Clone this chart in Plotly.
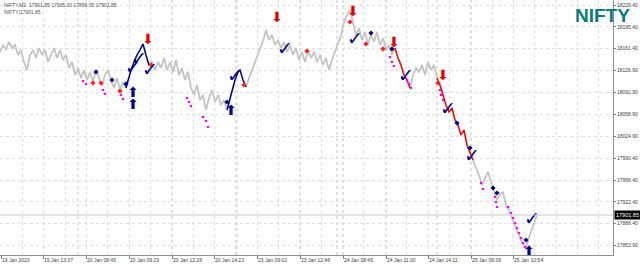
import plotly.graph_objects as go

# ---------------- data ----------------
bar_idx = [0, 3, 6, 9, 12, 15, 18, 21, 24, 27, 30, 33, 36, 39, 42, 45, 48, 51, 54, 57, 60, 63, 66, 69, 72, 75, 78,
           81, 84, 87, 90, 93, 96, 99, 102, 105, 108, 111, 114, 117, 120, 123, 126, 128, 131, 134, 137, 140, 143,
           146, 149, 152, 155, 158, 161, 164, 167, 170, 173, 176, 179, 182, 185, 188, 191, 194, 197, 200, 203,
           206, 209, 212, 215, 218, 221, 224, 227, 229, 232, 235, 238, 240, 243, 246, 249, 252, 255, 258, 261,
           264, 266, 269, 272, 275, 278, 281, 284, 287, 290, 293, 296, 299, 302, 305, 308, 311, 314, 317, 320,
           323, 326, 329, 332, 335, 338, 341, 344, 347, 350, 353, 356, 359, 362, 365, 368, 371, 374, 377, 380,
           383, 386, 389, 392, 395, 398, 401, 404, 407, 410, 413, 416, 419, 422, 425, 428, 431, 434, 437, 440,
           443, 446, 449, 452, 455, 458, 461, 464, 467, 470, 473, 476, 479, 482, 485, 488, 491, 494, 497, 500,
           503, 506, 509, 512, 515, 518, 521, 524, 526, 528, 531, 534, 537]
close = [18156.1, 18167.0, 18159.2, 18171.7, 18162.3, 18167.0, 18151.4, 18159.2, 18140.5, 18128.0, 18151.4,
         18159.2, 18146.7, 18162.3, 18151.4, 18159.2, 18140.5, 18151.4, 18162.3, 18146.7, 18159.2, 18143.6,
         18151.4, 18131.1, 18140.5, 18120.2, 18131.1,
         18115.5, 18128.0, 18112.4, 18124.9, 18109.3, 18128.0, 18115.5, 18103.0, 18120.2, 18128.0, 18112.4,
         18099.9, 18115.5, 18096.8, 18109.3, 18099.9, 18112.4, 18128.0, 18140.5, 18151.4, 18159.2, 18168.6,
         18151.4, 18135.8, 18140.5, 18128.0, 18140.5, 18131.1, 18146.7, 18128.0, 18140.5, 18124.9, 18143.6,
         18120.2, 18131.1, 18112.4, 18124.9, 18099.9, 18089.0, 18104.6, 18081.2, 18089.0, 18065.6, 18084.3,
         18096.8, 18078.1, 18089.0, 18073.4, 18081.2, 18065.6, 18078.1, 18096.8, 18112.4, 18124.9, 18128.0,
         18112.4, 18101.5, 18115.5, 18128.0, 18140.5, 18151.4, 18167.0, 18177.9, 18190.4, 18174.8, 18182.6,
         18167.0, 18174.8, 18162.3, 18171.7, 18156.1, 18167.0, 18151.4, 18162.3, 18143.6, 18156.1, 18140.5,
         18159.2, 18146.7, 18156.1, 18140.5, 18151.4, 18135.8, 18146.7, 18128.0, 18143.6, 18156.1, 18171.7,
         18182.6, 18202.9, 18213.8, 18221.6, 18202.9, 18182.6, 18193.5, 18174.8, 18187.3, 18168.6, 18182.6,
         18171.7, 18187.3, 18167.0, 18177.9, 18159.2, 18167.0, 18151.4, 18162.3, 18146.7, 18135.8, 18120.2,
         18112.4, 18099.9, 18120.2, 18131.1, 18124.9, 18135.8, 18120.2, 18140.5, 18128.0, 18135.8, 18115.5,
         18104.6, 18089.0, 18073.4, 18062.5, 18068.7, 18050.0, 18042.2, 18026.6, 18034.4, 18011.0, 18000.1,
         17987.6, 17975.1, 17964.2, 17948.6, 17959.5, 17968.9, 17953.3, 17940.8, 17925.2, 17933.0, 17937.7,
         17917.4, 17909.6, 17897.1, 17886.2, 17875.3, 17862.8, 17855.0, 17847.2, 17862.8, 17875.3, 17890.9,
         17901.85]

up_legs = [(126, 149), (227, 246)]
down_legs = [(395, 411), (437, 473)]

navy_dot_x = [96, 112, 126, 227, 371, 392, 457, 470, 493, 497, 526]
navy_dot_y = [18124.9, 18112.4, 18106.2, 18078.1, 18185.7, 18160.8, 18045.3, 18006.3, 17943.9, 17936.1, 17862.8]

red_dot_x = [93, 101, 120, 151, 244, 307, 350, 366, 383, 438]
red_dot_y = [18107.7, 18107.7, 18095.2, 18135.8, 18104.6, 18157.6, 18202.9, 18168.6, 18160.8, 18107.7]

pink_x = [83, 86, 103, 105, 121, 123, 187, 189, 191, 203, 206, 208, 390, 392, 394, 407, 409, 411,
          440, 441, 443, 481, 483, 495, 496, 497, 508, 511, 513, 515, 517, 519, 521, 523, 525]
pink_y = [18110.8, 18106.2, 18096.8, 18090.6, 18089.0, 18082.8, 18084.3, 18078.1, 18071.8, 18054.7,
          18048.4, 18039.1, 18148.3, 18140.5, 18134.2, 18112.4, 18106.2, 18099.9, 18096.8, 18089.0,
          18081.2, 17951.7, 17942.4, 17929.9, 17922.1, 17914.3, 17914.3, 17904.9, 17897.1, 17889.3,
          17881.5, 17873.7, 17865.9, 17858.1, 17851.9]

check_x = [133, 139, 150, 235, 285, 355, 406, 448, 472, 532]
check_y = [18129.6, 18143.6, 18126.4, 18117.1, 18159.2, 18174.8, 18117.1, 18065.6, 17992.3, 17894.0]

buy_x = [133, 133, 231, 529]
buy_y = [18092.0, 18073.0, 18062.5, 17843.5]

sell_x = [148, 277, 353, 394, 443]
sell_y = [18174.8, 18209.1, 18218.5, 18170.1, 18118.6]

price_ticks = [18229.40, 18195.40, 18161.40, 18126.90, 18092.90, 18058.90,
               18024.90, 17990.40, 17956.40, 17922.40, 17888.40, 17853.90]
time_tick_pos = [1, 43, 86, 129, 172, 214, 257, 300, 343, 386, 428, 471, 513]
time_tick_txt = ["19 Jan 2023", "19 Jan 13:37", "20 Jan 08:45", "20 Jan 09:29", "20 Jan 12:26",
                 "20 Jan 14:23", "23 Jan 09:02", "23 Jan 12:46", "24 Jan 08:45", "24 Jan 11:00",
                 "24 Jan 14:11", "25 Jan 09:39", "25 Jan 10:54"]
day_separators = [78, 237, 337, 437]

last_price = 17901.85
header1 = "NIFTY,M2  17901.85 17905.00 17899.05 17901.85"
header2 = "NIFTY|17901.85"

# ---------------- figure ----------------
fig = go.Figure()

for d in day_separators:
    fig.add_vline(x=d, line=dict(color="#c8c8c8", width=1, dash="dot"), layer="below")

fig.add_hline(y=last_price, line=dict(color="#c8c8c8", width=1))

fig.add_trace(go.Scatter(x=bar_idx, y=close, mode="lines",
                         line=dict(color="#c4c4c4", width=1.8), hoverinfo="skip"))


def leg_slice(lo, hi):
    xs = [b for b in bar_idx if lo <= b <= hi]
    ys = [c for b, c in zip(bar_idx, close) if lo <= b <= hi]
    return xs, ys


for lo, hi in up_legs:
    xs, ys = leg_slice(lo, hi)
    fig.add_trace(go.Scatter(x=xs, y=ys, mode="lines", line=dict(color="#000080", width=1.4)))
for lo, hi in down_legs:
    xs, ys = leg_slice(lo, hi)
    fig.add_trace(go.Scatter(x=xs, y=ys, mode="lines", line=dict(color="#ff0000", width=1.4)))

fig.add_trace(go.Scatter(x=pink_x, y=pink_y, mode="markers",
                         marker=dict(color="#ff00ff", size=2.2, symbol="square")))
fig.add_trace(go.Scatter(x=red_dot_x, y=red_dot_y, mode="markers",
                         marker=dict(color="#ff2020", size=4, symbol="diamond")))
fig.add_trace(go.Scatter(x=navy_dot_x, y=navy_dot_y, mode="markers",
                         marker=dict(color="#000080", size=4, symbol="diamond")))
fig.add_trace(go.Scatter(x=check_x, y=check_y, mode="text", text=["✓"] * len(check_x),
                         textfont=dict(family="DejaVu Sans", size=19, color="#000080"),
                         cliponaxis=False))
fig.add_trace(go.Scatter(x=buy_x, y=buy_y, mode="text", text=["⬆"] * len(buy_x),
                         textfont=dict(family="DejaVu Sans", size=14, color="#000080"),
                         cliponaxis=False))
fig.add_trace(go.Scatter(x=sell_x, y=sell_y, mode="text", text=["⬇"] * len(sell_x),
                         textfont=dict(family="DejaVu Sans", size=14, color="#e00000"),
                         cliponaxis=False))

fig.add_annotation(x=1, xref="paper", y=last_price, yref="y", xanchor="left", yanchor="middle",
                   text=f"{last_price:.2f}", showarrow=False,
                   font=dict(family="Liberation Sans", size=5.5, color="white"),
                   bgcolor="black", borderpad=1, xshift=1)
fig.add_annotation(x=573, xref="x", y=18213.0, yref="y", xanchor="left", yanchor="middle",
                   text="<b>NIFTY</b>", showarrow=False,
                   font=dict(family="Liberation Sans", size=19, color="#0b7b77"))
fig.add_annotation(x=0.003, xref="paper", y=1, yref="paper", xanchor="left", yanchor="top",
                   text=header1 + "<br>" + header2, showarrow=False, align="left",
                   font=dict(family="Liberation Sans", size=5, color="#505050"), yshift=0)

fig.update_layout(
    width=640, height=266,
    margin=dict(l=0, r=27, t=0, b=11),
    paper_bgcolor="white", plot_bgcolor="white",
    showlegend=False,
    xaxis=dict(range=[0, 613], tickvals=time_tick_pos, ticktext=time_tick_txt,
               ticklabelposition="outside right", ticks="outside", ticklen=3, tickcolor="#808080",
               tickfont=dict(family="Liberation Sans", size=5, color="#404040"),
               showgrid=True, gridcolor="#e0e0e0", griddash="dot", gridwidth=1,
               minor=dict(tick0=1, dtick=21.35, showgrid=True, gridcolor="#e0e0e0", griddash="dot"),
               showline=True, linecolor="#909090", linewidth=1, zeroline=False, fixedrange=True),
    yaxis=dict(range=[17839.4, 18237.2], side="right", tickvals=price_ticks,
               ticktext=[f"{v:.2f}" for v in price_ticks],
               ticks="outside", ticklen=2, tickcolor="#808080",
               tickfont=dict(family="Liberation Sans", size=5, color="#404040"),
               showgrid=True, gridcolor="#e0e0e0", griddash="dot",
               showline=True, linecolor="#909090", linewidth=1, zeroline=False, fixedrange=True),
)

fig.write_html("out.html")
